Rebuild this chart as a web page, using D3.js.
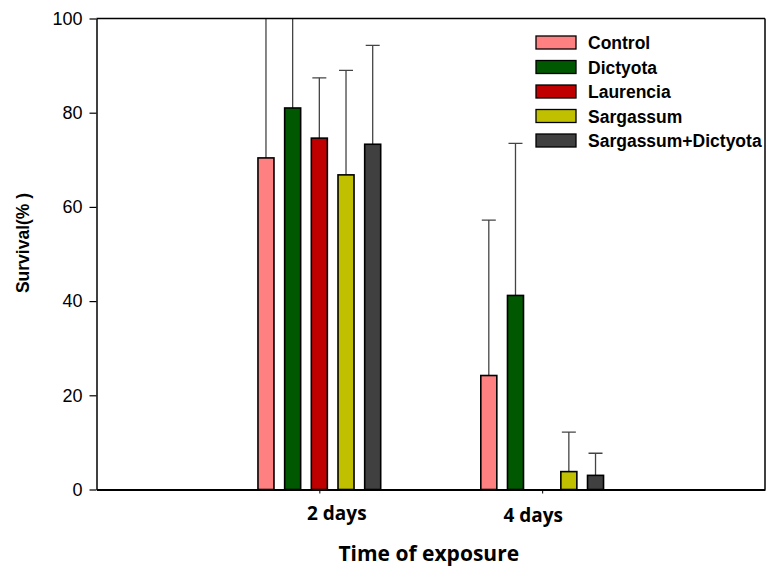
<!DOCTYPE html>
<html>
<head>
<meta charset="utf-8">
<script src="https://cdn.jsdelivr.net/npm/d3@7"></script>
<style>
  body { margin: 0; background: #fff; }
  svg { display: block; }
</style>
</head>
<body>
<svg id="chart" width="769" height="569"></svg>
<script>
// ---- data ----
const categories = ["2 days", "4 days"];
const seriesNames = ["Control", "Dictyota", "Laurencia", "Sargassum", "Sargassum+Dictyota"];
const seriesColors = ["#ff8080", "#005800", "#c00000", "#c0c000", "#404040"];
const controlMean = [70.4, 24.2];
const controlErr = [36.0, 33.0];
const dictyotaMean = [81.0, 41.2];
const dictyotaErr = [27.0, 32.3];
const laurenciaMean = [74.6, 0];
const laurenciaErr = [12.8, 0];
const sargassumMean = [66.8, 3.8];
const sargassumErr = [22.2, 8.4];
const sargDictMean = [73.3, 3.0];
const sargDictErr = [21.0, 4.7];
const yTicks = [0, 20, 40, 60, 80, 100];

const means = [controlMean, dictyotaMean, laurenciaMean, sargassumMean, sargDictMean];
const errs = [controlErr, dictyotaErr, laurenciaErr, sargassumErr, sargDictErr];

// ---- layout ----
const svg = d3.select("#chart");
const pL = 96.5, pR = 765, pT = 18.5, pB = 489.5;

const x = d3.scaleLinear().domain([0, categories.length + 1]).range([pL, pR]);
const y = d3.scaleLinear().domain([0, 100]).range([pB, pT]);
const groupHalf = 66.7;
const inner = d3.scaleBand().domain(seriesNames).range([-groupHalf, groupHalf]).paddingInner(0.4).paddingOuter(0.2);

svg.append("defs").append("clipPath").attr("id", "plotClip")
  .append("rect").attr("x", pL).attr("y", pT).attr("width", pR - pL).attr("height", pB - pT);

const records = [];
seriesNames.forEach((s, si) => {
  categories.forEach((c, ci) => {
    records.push({ s, si, ci, mean: means[si][ci], err: errs[si][ci] });
  });
});

const plot = svg.append("g").attr("clip-path", "url(#plotClip)");
const cx = d => x(d.ci + 1) + inner(d.s) + inner.bandwidth() / 2;

// error bars (upper only)
const eb = plot.selectAll("g.err").data(records.filter(d => d.mean > 0)).join("g").attr("class", "err");
eb.append("line")
  .attr("x1", cx).attr("x2", cx)
  .attr("y1", d => y(d.mean))
  .attr("y2", d => y(d.mean + d.err))
  .attr("stroke", "#444").attr("stroke-width", 1.3);
eb.append("line")
  .attr("x1", d => cx(d) - 7)
  .attr("x2", d => cx(d) + 7)
  .attr("y1", d => y(d.mean + d.err))
  .attr("y2", d => y(d.mean + d.err))
  .attr("stroke", "#444").attr("stroke-width", 1.3);

// bars
plot.selectAll("rect.bar").data(records.filter(d => d.mean > 0)).join("rect")
  .attr("class", "bar")
  .attr("x", d => x(d.ci + 1) + inner(d.s))
  .attr("width", inner.bandwidth())
  .attr("y", d => y(d.mean))
  .attr("height", d => y(0) - y(d.mean))
  .attr("fill", d => seriesColors[d.si])
  .attr("stroke", "#000").attr("stroke-width", 1.6);

// frame top/right
svg.append("line").attr("x1", pL).attr("x2", pR).attr("y1", pT).attr("y2", pT)
  .attr("stroke", "#000").attr("stroke-width", 1.5);
svg.append("line").attr("x1", pR).attr("x2", pR).attr("y1", pT).attr("y2", pB)
  .attr("stroke", "#000").attr("stroke-width", 1.5);

// y axis
const yAxis = svg.append("g").attr("transform", `translate(${pL},0)`)
  .call(d3.axisLeft(y).tickValues(yTicks).tickSize(7).tickPadding(7).tickSizeOuter(0));
yAxis.select(".domain").attr("stroke", "#000").attr("stroke-width", 1.5);
yAxis.selectAll(".tick line").attr("stroke", "#000").attr("stroke-width", 1.2);
yAxis.selectAll(".tick text").attr("font-family", "'Liberation Sans', Arial, sans-serif")
  .attr("font-size", 18).attr("fill", "#000");

// x axis
const labelOffsets = [17, -9.5];
const xAxis = svg.append("g").attr("transform", `translate(0,${pB})`)
  .call(d3.axisBottom(x).tickValues([1, 2]).tickSize(4).tickSizeOuter(0)
    .tickFormat(d => categories[d - 1]));
xAxis.select(".domain").attr("stroke", "#000").attr("stroke-width", 2.2);
xAxis.selectAll(".tick line").attr("stroke", "#000").attr("stroke-width", 1);
xAxis.selectAll(".tick text")
  .attr("font-family", "'Open Sans', sans-serif").attr("font-weight", 700)
  .attr("font-size", 19).attr("fill", "#000")
  .attr("dy", null).attr("y", (d, i) => 30 + i * 2.5)
  .attr("x", (d, i) => labelOffsets[i]);

// axis titles
svg.append("text")
  .attr("x", (pL + pR) / 2 - 2).attr("y", 561)
  .attr("text-anchor", "middle")
  .attr("font-family", "'Open Sans', sans-serif").attr("font-weight", 700)
  .attr("font-size", 21).text("Time of exposure");

svg.append("text")
  .attr("transform", "translate(29,243) rotate(-90)")
  .attr("text-anchor", "middle")
  .attr("font-family", "'Liberation Sans', Arial, sans-serif").attr("font-weight", 700)
  .attr("font-size", 17.5).text("Survival(% )");

// legend
const legend = svg.append("g").attr("transform", "translate(536,36)");
const lg = legend.selectAll("g").data(seriesNames).join("g")
  .attr("transform", (d, i) => `translate(0,${i * 24.5})`);
lg.append("rect").attr("width", 40).attr("height", 13)
  .attr("fill", (d, i) => seriesColors[i]).attr("stroke", "#000").attr("stroke-width", 1.3);
lg.append("text").attr("x", 52).attr("y", 13)
  .attr("font-family", "'Liberation Sans', Arial, sans-serif").attr("font-weight", 700)
  .attr("font-size", 17.5).attr("fill", "#000").text(d => d);
</script>
</body>
</html>
